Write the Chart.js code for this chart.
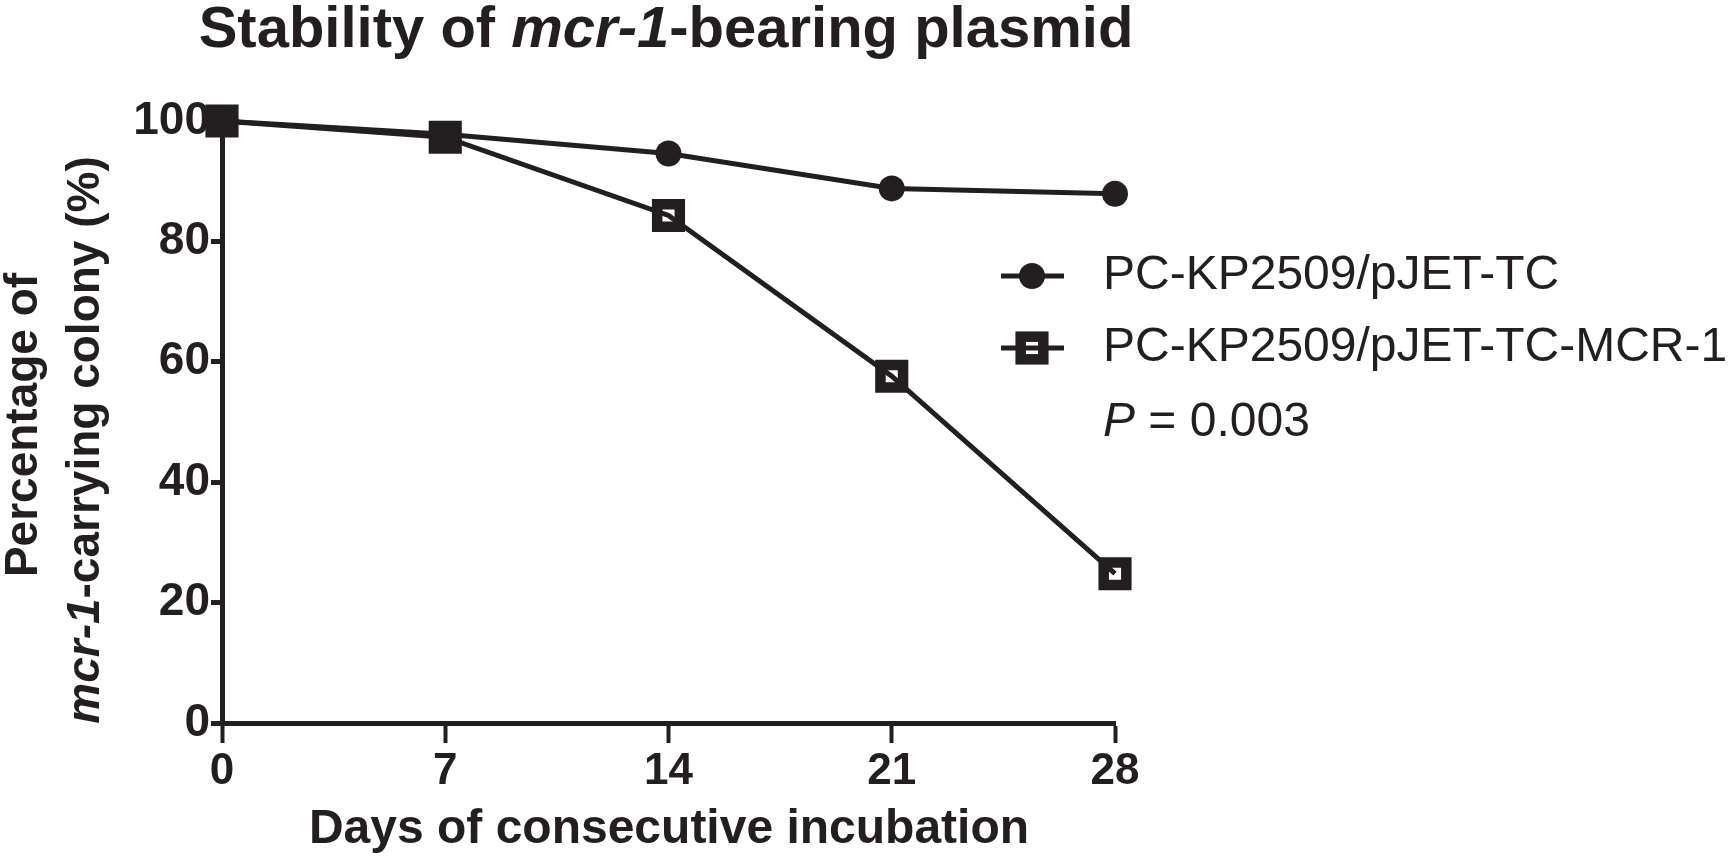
<!DOCTYPE html>
<html>
<head>
<meta charset="utf-8">
<script src="https://cdn.jsdelivr.net/npm/chart.js@4"></script>
<style>
  html, body { margin: 0; padding: 0; background: #fff; }
  canvas { display: block; }
</style>
</head>
<body>
<canvas id="stabilityChart" width="1734" height="865"></canvas>
<script>
const days = [0, 7, 14, 21, 28];
const controlPct = [100, 97.8, 94.6, 88.8, 87.9];
const mcrPct = [100, 97.3, 84.3, 57.6, 24.8];
const seriesNames = ['PC-KP2509/pJET-TC', 'PC-KP2509/pJET-TC-MCR-1'];
const pValue = '0.003';

const ink = '#231f20';
const family = "'Liberation Sans', Arial, sans-serif";

function drawRich(ctx, parts, x, y, size, weight) {
    let total = 0;
    parts.forEach(p => {
        ctx.font = `${p[1]} ${weight} ${size}px ${family}`;
        total += ctx.measureText(p[0]).width;
    });
    let cx = x - total / 2;
    ctx.textAlign = 'left';
    parts.forEach(p => {
        ctx.font = `${p[1]} ${weight} ${size}px ${family}`;
        ctx.fillText(p[0], cx, y);
        cx += ctx.measureText(p[0]).width;
    });
}

function drawMarker(ctx, ds, x, y) {
    ctx.save();
    if (ds.pointStyle === 'circle') {
        ctx.fillStyle = ds.pointBackgroundColor;
        ctx.beginPath();
        ctx.arc(x, y, ds.pointRadius, 0, Math.PI * 2);
        ctx.fill();
    } else {
        const half = Math.SQRT1_2 * ds.pointRadius;
        ctx.strokeStyle = ds.pointBorderColor;
        ctx.lineWidth = ds.pointBorderWidth;
        ctx.strokeRect(x - half, y - half, half * 2, half * 2);
    }
    ctx.restore();
}

const textPlugin = {
    id: 'textPlugin',
    afterDraw(chart) {
        const ctx = chart.ctx;
        ctx.save();
        ctx.fillStyle = ink;
        ctx.textBaseline = 'middle';

        drawRich(ctx, [['Stability of ', ''], ['mcr-1', 'italic'], ['-bearing plasmid', '']], 666, 31, 58, 'bold');
        drawRich(ctx, [['Days of consecutive incubation', '']], 669, 830, 48, 'bold');

        ctx.save();
        ctx.translate(24, 425);
        ctx.rotate(-Math.PI / 2);
        drawRich(ctx, [['Percentage of', '']], 0, 0, 46, 'bold');
        ctx.restore();
        ctx.save();
        ctx.translate(86, 440);
        ctx.rotate(-Math.PI / 2);
        drawRich(ctx, [['mcr-1', 'italic'], ['-carrying colony (%)', '']], 0, 0, 46, 'bold');
        ctx.restore();

        // legend
        const rows = [276, 348];
        chart.data.datasets.forEach((ds, i) => {
            const y = rows[i];
            ctx.strokeStyle = ds.borderColor;
            ctx.lineWidth = ds.borderWidth;
            ctx.beginPath();
            ctx.moveTo(1001, y);
            ctx.lineTo(1064, y);
            ctx.stroke();
            drawMarker(ctx, ds, 1032, y);
            ctx.font = `48px ${family}`;
            ctx.textAlign = 'left';
            ctx.fillStyle = ink;
            ctx.fillText(ds.label, 1103, y);
        });
        ctx.font = `italic 48px ${family}`;
        ctx.fillText('P', 1103, 423);
        const pw = ctx.measureText('P').width;
        ctx.font = `48px ${family}`;
        ctx.fillText(' = ' + pValue, 1103 + pw, 423);
        ctx.restore();
    }
};

new Chart(document.getElementById('stabilityChart'), {
    type: 'line',
    data: {
        datasets: [
            {
                label: seriesNames[0],
                data: days.map((d, i) => ({ x: d, y: controlPct[i] })),
                borderColor: ink,
                borderWidth: 5,
                pointStyle: 'circle',
                pointRadius: 13,
                pointBackgroundColor: ink,
                pointBorderWidth: 0,
                pointBorderColor: ink,
                clip: false
            },
            {
                label: seriesNames[1],
                data: days.map((d, i) => ({ x: d, y: mcrPct[i] })),
                borderColor: ink,
                borderWidth: 5,
                pointStyle: 'rect',
                pointRadius: 16,
                pointBackgroundColor: 'transparent',
                pointBorderWidth: 10.5,
                pointBorderColor: ink,
                clip: false
            }
        ]
    },
    options: {
        responsive: false,
        animation: false,
        devicePixelRatio: 1,
        layout: { padding: { left: 0, top: 121, right: 619, bottom: 0 } },
        plugins: {
            legend: { display: false },
            tooltip: { enabled: false }
        },
        scales: {
            x: {
                type: 'linear',
                min: 0,
                max: 28,
                afterFit: (scale) => { scale.height = 142; },
                ticks: {
                    stepSize: 7,
                    color: ink,
                    padding: 2,
                    maxRotation: 0,
                    font: { family: 'Liberation Sans', size: 44, weight: 'bold' }
                },
                grid: {
                    drawOnChartArea: false,
                    tickLength: 20,
                    tickWidth: 4,
                    tickColor: ink
                },
                border: { color: ink, width: 5 }
            },
            y: {
                min: 0,
                max: 100,
                afterFit: (scale) => { scale.width = 222; },
                ticks: {
                    stepSize: 20,
                    color: ink,
                    padding: 1,
                    font: { family: 'Liberation Sans', size: 46, weight: 'bold' }
                },
                grid: {
                    drawOnChartArea: false,
                    tickLength: 11,
                    tickWidth: 5,
                    tickColor: ink
                },
                border: { color: ink, width: 5 }
            }
        }
    },
    plugins: [textPlugin]
});
</script>
</body>
</html>
